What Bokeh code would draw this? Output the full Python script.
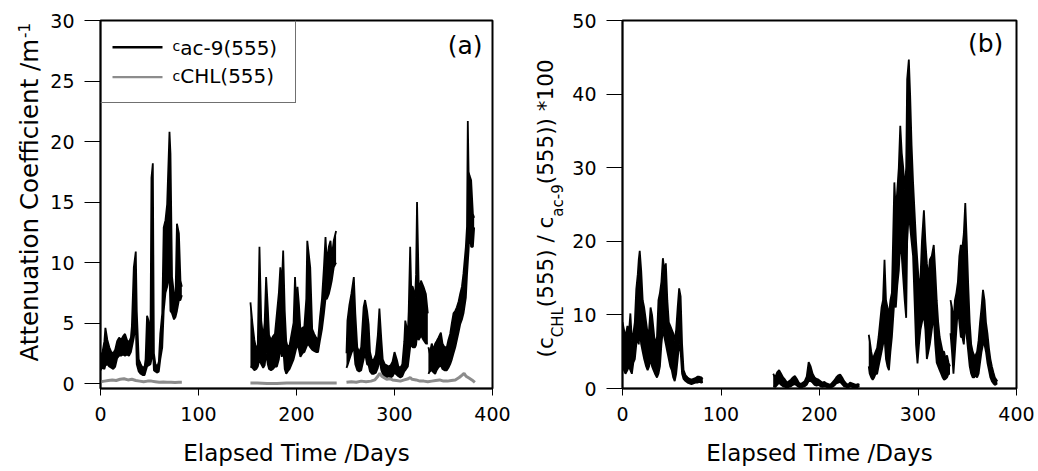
import numpy as np
from bokeh.plotting import figure
from bokeh.models import Range1d, Label, BoxAnnotation, FixedTicker
from bokeh.layouts import row
from bokeh.embed import file_html
from bokeh.resources import INLINE

FONT = "DejaVu Sans"
BLACK = "#000000"
GRAY = "#8c8c8c"

# ---------------- data ----------------
x_ticks = [0, 100, 200, 300, 400]
ya_ticks = [0, 5, 10, 15, 20, 25, 30]
yb_ticks = [0, 10, 20, 30, 40, 50]

# Panel (a): c_ac-9(555), envelope (low / high) of the dense record, per deployment
cac9_day_1 = [0, 2, 4, 5, 7, 9, 11, 13, 15, 17, 19, 21, 23, 25, 27, 29, 31, 32, 34, 36, 37, 39, 41, 43, 45, 46,
              47.5, 49, 51, 52, 53.4, 54.5, 56, 58, 59.5, 61, 63, 64.5, 66.3, 68, 70.4, 71.4, 73, 75, 76.5, 78, 80, 81.6, 83]
cac9_low_1 = [1.1, 1.3, 1.2, 1.5, 1.6, 1.4, 1.3, 1.2, 1.4, 2.1, 2.3, 2.3, 2.4, 2.3, 2.4, 2.3, 2.6, 3.0, 3.8, 5.0, 1.6, 1.0, 0.8, 0.7, 0.7, 1.0,
              1.4, 1.5, 1.6, 2.0, 3.0, 1.1, 1.0, 0.9, 1.0, 2.0, 3.0, 6.0, 7.5, 8.0, 9.0, 6.0, 5.8, 5.3, 5.5, 6.0, 6.9, 6.9, 7.3]
cac9_high_1 = [2.3, 2.6, 3.5, 4.6, 3.6, 3.0, 2.6, 2.5, 2.8, 3.5, 3.8, 3.6, 3.9, 4.1, 3.6, 3.4, 3.8, 4.7, 9.6, 10.9, 6.0, 2.0, 1.6, 1.3, 1.4, 2.0,
               5.6, 5.2, 4.0, 17.0, 18.2, 2.5, 1.6, 1.4, 1.8, 4.1, 5.8, 12.9, 13.5, 14.8, 20.8, 19.0, 8.8, 7.4, 6.9, 13.2, 12.4, 8.5, 8.0]

cac9_day_2 = [153, 155, 157, 159, 160.5, 162.2, 164, 166, 167.5, 169, 170.7, 172, 174, 176, 178, 180, 182, 183.5, 185, 186.4,
              188, 189.5, 191, 193, 195, 197, 198.5, 200, 201, 202.5, 204, 206, 208, 210, 211, 212.5, 214, 216, 218, 220,
              222, 224, 226, 228, 229.6, 231, 233, 234.7, 236, 238, 240.4]
cac9_low_2 = [1.4, 1.3, 1.1, 1.2, 1.4, 2.0, 1.6, 1.3, 1.5, 2.5, 1.6, 1.2, 1.1, 1.2, 1.4, 1.4, 2.0, 3.0, 2.2, 3.0,
              1.2, 0.8, 1.0, 1.2, 1.6, 2.0, 2.5, 3.0, 3.2, 2.8, 2.2, 2.5, 2.6, 3.0, 3.2, 3.2, 3.0, 2.8, 2.7, 2.6,
              2.6, 3.6, 4.5, 5.8, 7.0, 7.0, 7.4, 8.0, 8.5, 9.6, 10.0]
cac9_high_2 = [6.7, 5.0, 3.6, 2.8, 3.2, 11.3, 5.2, 3.8, 5.0, 8.8, 6.3, 4.0, 3.6, 3.9, 4.1, 5.8, 7.5, 9.6, 8.0, 11.0,
               6.0, 3.5, 3.0, 3.2, 4.1, 5.0, 8.8, 6.0, 8.0, 6.5, 4.4, 4.6, 4.7, 7.0, 11.8, 10.7, 9.6, 4.5, 4.1, 3.8,
               3.6, 5.5, 7.0, 9.6, 12.1, 10.0, 11.3, 11.8, 10.5, 11.8, 12.6]

cac9_day_3 = [251, 252, 254, 256, 258.5, 260, 262, 264, 266, 268.5, 270, 272, 273.6, 275, 277, 279, 281, 283, 284.6, 286.6,
              288, 290, 292, 294, 296, 298, 300, 302.6, 304, 306, 308, 310, 311, 313.6, 314.5, 316, 317, 318.6, 321, 322,
              323, 324.6, 326, 327, 329.6, 332, 334]
cac9_low_3 = [1.3, 1.5, 2.0, 2.5, 3.0, 1.6, 1.1, 1.0, 1.1, 2.0, 2.5, 1.6, 1.5, 1.0, 0.8, 0.8, 0.9, 1.3, 2.0, 1.1,
              0.8, 0.6, 0.5, 0.6, 0.5, 0.6, 0.9, 0.7, 0.6, 0.5, 0.6, 1.0, 1.1, 1.4, 2.0, 3.0, 3.2, 3.0, 3.0, 3.2,
              4.0, 3.6, 3.8, 4.0, 3.6, 3.3, 3.3]
cac9_high_3 = [2.5, 5.2, 6.5, 7.4, 8.8, 5.8, 3.0, 2.6, 3.0, 6.3, 6.9, 6.0, 4.9, 2.6, 1.9, 2.0, 2.4, 4.0, 6.2, 3.6,
               2.0, 1.6, 1.5, 1.4, 1.5, 1.8, 2.6, 1.9, 1.4, 1.3, 1.6, 3.5, 5.2, 4.1, 6.0, 11.3, 8.0, 8.0, 7.1, 9.0,
               15.0, 8.5, 7.5, 8.5, 8.0, 7.4, 5.8]

cac9_day_4 = [334.6, 336, 338, 340, 341.5, 343, 344.9, 347.3, 349, 351, 353.4, 355, 356.8, 358.5, 360.2, 362, 363.6,
              365.5, 367, 368.8, 370.4, 372.8, 374, 374.8, 375.6, 376.5, 378.2, 380, 381.3]
cac9_low_4 = [0.8, 1.0, 1.1, 0.9, 0.8, 1.1, 1.35, 1.5, 1.2, 1.1, 1.1, 1.3, 1.6, 2.0, 2.5, 3.0, 3.6,
              4.3, 4.9, 5.3, 5.8, 7.1, 9.0, 10.0, 11.0, 12.6, 11.3, 11.3, 12.9]
cac9_high_4 = [3.0, 2.5, 3.3, 2.8, 3.3, 3.5, 3.8, 4.2, 3.3, 3.0, 3.0, 3.6, 4.1, 5.0, 5.8, 6.0, 6.3,
               6.8, 7.4, 8.0, 9.1, 11.3, 13.0, 21.7, 17.5, 17.2, 16.8, 14.0, 13.7]

# Panel (a): c_CHL(555)
cchl_day_1 = [0, 4, 8, 12, 16, 20, 24, 28, 32, 36, 40, 44, 48, 52, 56, 60, 64, 68, 72, 76, 80, 83]
cchl_val_1 = [0.15, 0.2, 0.25, 0.3, 0.25, 0.35, 0.4, 0.3, 0.35, 0.25, 0.2, 0.15, 0.2, 0.2, 0.15, 0.1, 0.12, 0.1, 0.1, 0.08, 0.1, 0.1]
cchl_day_2 = [153, 160, 170, 180, 190, 200, 210, 220, 230, 241]
cchl_val_2 = [0.05, 0.05, 0.0, 0.0, 0.05, 0.05, 0.05, 0.05, 0.05, 0.05]
cchl_day_3 = [251, 256, 261, 266, 271, 276, 280, 283, 285, 287, 289, 292, 295, 298, 302, 306, 310, 314, 316, 318, 322,
              326, 330, 334, 338, 342, 346, 350, 354, 358, 362, 366, 369, 371, 373, 376, 379, 382]
cchl_val_3 = [0.1, 0.15, 0.1, 0.2, 0.15, 0.2, 0.3, 0.6, 0.85, 0.6, 0.5, 0.35, 0.4, 0.3, 0.25, 0.2, 0.3, 0.4, 0.5, 0.35, 0.3,
              0.2, 0.2, 0.15, 0.2, 0.25, 0.3, 0.2, 0.2, 0.25, 0.3, 0.5, 0.7, 0.85, 0.6, 0.45, 0.3, 0.1]

# Panel (b): (c_CHL(555) / c_ac-9(555)) * 100, envelope (low / high)
ratio_day_1 = [0, 1.5, 3, 5, 6.5, 8, 9.5, 11, 12.5, 14, 15.5, 16.5, 17.5, 19, 20.5, 22, 24, 25.5, 27, 28.5, 30, 31.5, 33, 35,
               36.5, 38, 39.5, 41, 42.5, 44, 45.5, 47, 48.5, 50, 51.5, 53, 54.5, 56, 57.5, 59, 60.5, 62, 64, 66, 68, 70,
               72, 74, 76, 78, 80, 81.5]
ratio_low_1 = [3.0, 2.5, 2.0, 2.5, 3.0, 2.5, 2.0, 3.5, 4.0, 6.0, 7.0, 6.0, 8.0, 6.0, 5.0, 4.0, 3.0, 2.5, 3.0, 4.0, 3.0, 2.5, 2.0, 1.5,
               2.0, 3.0, 6.0, 8.0, 7.0, 6.0, 5.0, 4.0, 3.0, 2.5, 1.5, 1.0, 2.0, 4.0, 6.0, 5.0, 2.0, 1.3, 1.0, 0.8, 0.7, 0.6,
               0.7, 0.8, 0.8, 0.9, 0.8, 0.9]
ratio_high_1 = [9.0, 8.0, 7.0, 8.5, 7.5, 10.2, 6.5, 7.5, 9.0, 13.5, 15.5, 17.5, 18.7, 16.0, 12.0, 11.0, 9.0, 7.5, 8.0, 11.0, 10.0, 8.0, 6.0, 7.0,
                12.0, 13.0, 14.5, 17.7, 16.0, 17.0, 12.0, 9.0, 8.5, 8.0, 7.5, 6.5, 8.0, 11.0, 13.6, 12.5, 6.0, 2.5, 1.8, 1.5, 1.3, 1.2,
                1.3, 1.4, 1.6, 1.6, 1.5, 1.3]

ratio_day_2 = [153, 155, 157, 159, 161, 163, 165, 167, 169, 171, 173, 175, 177, 179, 181, 183, 185, 187, 189, 191, 193, 195,
               197, 199, 201, 203, 205, 207, 209, 211, 213, 215, 217, 219, 221, 223, 225, 227, 229, 231, 233, 235, 237, 239, 240.5]
ratio_low_2 = [0.3, 0.2, 0.5, 0.8, 0.5, 0.3, 0.2, 0.1, 0.2, 0.3, 0.5, 0.6, 0.4, 0.2, 0.1, 0.2, 0.3, 0.5, 1.0, 1.0, 0.8, 0.5,
               0.4, 0.5, 0.3, 0.2, 0.3, 0.2, 0.2, 0.1, 0.2, 0.4, 0.7, 0.8, 0.9, 0.6, 0.3, 0.2, 0.1, 0.3, 0.2, 0.2, 0.1, 0.2, 0.3]
ratio_high_2 = [2.0, 1.5, 2.2, 2.5, 2.0, 1.5, 1.2, 0.8, 1.0, 1.2, 1.5, 1.7, 1.3, 0.8, 0.6, 0.8, 1.0, 1.6, 3.6, 3.0, 2.0, 1.5,
                1.3, 1.2, 1.0, 0.8, 0.9, 0.7, 0.6, 0.5, 0.8, 1.1, 1.5, 1.8, 1.9, 1.5, 1.0, 0.7, 0.5, 0.8, 0.7, 0.6, 0.5, 0.6, 0.5]

ratio_day_3 = [250, 251, 252.5, 254, 255.5, 257, 258.5, 260, 261.5, 263, 264.5, 266, 267.5, 269, 270.5, 272, 273.5, 275,
               276, 277.5, 279, 280.5, 282, 283.5, 285, 286.5, 288, 289, 290.7, 292, 293.5, 295, 296.5, 298, 299.5, 301,
               302.5, 304, 306, 307.5, 309, 310.5, 312, 314, 316, 317.5, 319, 320.5, 322, 323.5, 325, 326.5, 328, 329.5,
               331, 332.5]
ratio_low_3 = [3.0, 2.0, 1.5, 1.2, 1.5, 2.0, 2.0, 3.0, 4.0, 5.0, 6.0, 7.0, 4.0, 3.0, 2.5, 5.0, 7.0, 10.0,
               12.0, 11.0, 14.0, 16.0, 20.0, 18.0, 15.0, 12.0, 9.6, 20.0, 24.0, 22.0, 20.0, 18.0, 12.0, 6.0, 3.4, 6.0,
               8.0, 9.0, 10.0, 8.0, 4.0, 5.0, 6.0, 8.0, 10.0, 6.0, 3.5, 3.0, 2.5, 2.0, 1.5, 1.2, 1.3, 1.5,
               2.0, 2.0]
ratio_high_3 = [7.3, 6.5, 5.0, 4.0, 4.5, 5.0, 5.5, 7.0, 9.0, 11.0, 12.0, 17.5, 12.0, 11.0, 10.0, 12.0, 13.0, 22.0,
                28.0, 24.0, 27.0, 30.0, 35.7, 32.0, 30.0, 27.0, 30.0, 42.0, 44.7, 40.0, 33.0, 28.0, 24.0, 20.0, 17.0, 14.0,
                15.0, 20.0, 24.2, 20.0, 17.0, 15.0, 17.5, 18.0, 19.5, 16.0, 12.0, 9.0, 7.0, 6.0, 5.0, 5.0, 4.0, 4.5,
                3.5, 3.0]

ratio_day_4 = [333, 334.5, 336, 337.5, 339, 340.5, 342, 343.5, 345, 346.5, 348, 349.5, 351, 352.5, 354, 355.5, 357, 358.5,
               360, 361.5, 363, 364.5, 366, 367.5, 369, 370.5, 372, 373.5, 375, 376.5, 378, 379.5, 380.5]
ratio_low_4 = [7.5, 5.0, 2.0, 5.0, 8.0, 11.0, 9.0, 7.0, 7.0, 6.0, 9.0, 7.0, 5.0, 3.0, 2.0, 1.5, 1.5, 1.8,
               1.5, 2.0, 3.5, 5.0, 6.0, 6.0, 5.0, 3.5, 2.5, 1.5, 1.0, 0.7, 0.5, 0.6, 0.7]
ratio_high_4 = [12.0, 11.0, 9.0, 12.0, 13.0, 14.5, 18.0, 19.5, 19.0, 21.0, 25.2, 20.0, 14.0, 9.0, 6.0, 5.0, 4.5, 4.5,
                5.0, 6.5, 9.0, 11.0, 13.4, 12.0, 9.0, 7.5, 5.5, 4.0, 3.0, 2.2, 1.5, 1.2, 1.0]

# ---------------- helpers ----------------
DJV = {' ': 0.318, '(': 0.390, ')': 0.390, '*': 0.500, '-': 0.361, '/': 0.337, '0': 0.636, '1': 0.636,
       '5': 0.636, '9': 0.636, 'A': 0.684, 'C': 0.698, 'H': 0.752, 'L': 0.557, 'a': 0.613, 'c': 0.550,
       'e': 0.615, 'f': 0.352, 'i': 0.278, 'm': 0.974, 'n': 0.634, 'o': 0.612, 't': 0.392, 'u': 0.634}
MID = 0.346   # distance (in em) from the baseline up to the middle of the text box (DejaVu Sans)


def tw(s, size):
    return sum(DJV.get(ch, 0.6) for ch in s) * size


def rich_label(p, pieces, bx, y0, vertical=False):
    """pieces: (text, size, baseline offset in px, positive = lower).
    bx/y0: baseline position and start of the text (screen units of the frame, y upward)."""
    pos = 0.0
    for text, size, off in pieces:
        if vertical:
            lab = Label(x=bx + off - MID * size, y=y0 + pos, x_units="screen", y_units="screen",
                        angle=np.pi / 2, text=text, text_font=FONT, text_font_size=f"{size}px",
                        text_color="black", text_align="left", text_baseline="middle")
        else:
            lab = Label(x=bx + pos, y=y0 - off + MID * size, x_units="screen", y_units="screen",
                        text=text, text_font=FONT, text_font_size=f"{size}px", text_color="black",
                        text_align="left", text_baseline="middle")
        p.add_layout(lab)
        pos += tw(text, size)


def strip_fig(width):
    """Blank strip that carries the rotated y-axis title (with sub/superscripts).
    Its frame is aligned by the row layout with the neighbouring plot frames (y = 20 .. 388)."""
    s = figure(width=width, height=471, output_backend="svg", toolbar_location=None,
               x_range=Range1d(0, 1), y_range=Range1d(0, 1), x_axis_type=None, y_axis_type=None,
               min_border_left=0, min_border_right=0, min_border_top=20, min_border_bottom=83)
    s.grid.visible = False
    s.outline_line_color = None
    s.background_fill_color = "white"
    s.border_fill_color = "white"
    return s


def base_fig(width, y_range, y_ticks, left, right):
    p = figure(width=width, height=471, output_backend="svg", toolbar_location=None,
               x_range=Range1d(0, 400), y_range=y_range,
               min_border_left=left, min_border_right=right, min_border_top=20, min_border_bottom=83)
    p.grid.visible = False
    p.background_fill_color = "white"
    p.border_fill_color = "white"
    p.outline_line_color = "black"
    p.outline_line_width = 2
    p.xaxis.ticker = FixedTicker(ticks=x_ticks)
    p.yaxis.ticker = FixedTicker(ticks=y_ticks)
    for ax in (p.xaxis[0], p.yaxis[0]):
        ax.axis_line_color = "black"
        ax.axis_line_width = 1.5
        ax.major_tick_line_color = "black"
        ax.major_tick_line_width = 1
        ax.major_tick_in = 0
        ax.minor_tick_line_color = None
        ax.major_label_text_font = FONT
        ax.major_label_text_font_size = "19px"
        ax.major_label_text_color = "black"
    p.xaxis.major_tick_out = 7
    p.yaxis.major_tick_out = 16
    p.xaxis.major_label_standoff = 11
    p.yaxis.major_label_standoff = 10
    p.xaxis.axis_label = "Elapsed Time /Days"
    p.xaxis.axis_label_text_font = FONT
    p.xaxis.axis_label_text_font_size = "23px"
    p.xaxis.axis_label_text_font_style = "normal"
    p.xaxis.axis_label_text_color = "black"
    p.xaxis.axis_label_standoff = 16
    return p


def band(p, day, low, high, color):
    p.varea(x=day, y1=low, y2=high, fill_color=color)
    p.line(day, low, line_color=color, line_width=1.8)
    p.line(day, high, line_color=color, line_width=1.8)


def screen_box(p, left, right, bottom, top, color):
    p.add_layout(BoxAnnotation(left=left, right=right, bottom=bottom, top=top, left_units="screen",
                               right_units="screen", bottom_units="screen", top_units="screen",
                               fill_color=color, fill_alpha=1, line_alpha=0))


# ---------------- panel (a) ----------------
sa = strip_fig(44)
pa = base_fig(475, Range1d(-0.41, 30), ya_ticks, 56, 27)
band(pa, cac9_day_1, cac9_low_1, cac9_high_1, BLACK)
band(pa, cac9_day_2, cac9_low_2, cac9_high_2, BLACK)
band(pa, cac9_day_3, cac9_low_3, cac9_high_3, BLACK)
band(pa, cac9_day_4, cac9_low_4, cac9_high_4, BLACK)
for d, v in ((cchl_day_1, cchl_val_1), (cchl_day_2, cchl_val_2), (cchl_day_3, cchl_val_3)):
    pa.line(d, v, line_color=GRAY, line_width=3)

# legend (box edges, sample lines, texts) -- frame-relative pixels, y upward from the frame bottom
screen_box(pa, 194.5, 195.5, 286, 368, "#707070")
screen_box(pa, 0, 195.5, 285.5, 286.5, "#707070")
screen_box(pa, 12, 62, 340, 342.6, BLACK)
screen_box(pa, 12, 62, 310.2, 312.4, GRAY)
rich_label(pa, [("c", 14, -4.5), ("ac-9(555)", 20, 0)], 72, 333.5)
rich_label(pa, [("c", 14, -2.5), ("CHL(555)", 20, 0)], 72, 305.5)
rich_label(pa, [("(a)", 25, 0)], 382 - tw("(a)", 25), 334)

# y-axis title of (a): baseline at canvas x = 37.5, starts at canvas y = 361 (frame bottom at 388)
rich_label(sa, [("Attenuation Coefficient /m", 24.5, 0), ("-1", 15, -9)], 37.5, 388 - 361, vertical=True)

# ---------------- panel (b) ----------------
sb = strip_fig(47)
pb = base_fig(472, Range1d(0, 50), yb_ticks, 56, 22)
band(pb, ratio_day_1, ratio_low_1, ratio_high_1, BLACK)
band(pb, ratio_day_2, ratio_low_2, ratio_high_2, BLACK)
band(pb, ratio_day_3, ratio_low_3, ratio_high_3, BLACK)
band(pb, ratio_day_4, ratio_low_4, ratio_high_4, BLACK)

rich_label(pb, [("(b)", 25, 0)], 380 - tw("(b)", 25), 336)
# y-axis title of (b): main baseline at canvas x = 552 (strip starts at 519), starts at canvas y = 357
rich_label(sb, [("(c", 21.5, 0), ("CHL", 15, 11), ("(555) / c", 21.5, 0), ("ac-9", 15, 11), ("(555)) *100", 21.5, 0)],
           33, 388 - 357, vertical=True)

layout = row(sa, pa, sb, pb)
open("out.html", "w").write(file_html(layout, INLINE))
